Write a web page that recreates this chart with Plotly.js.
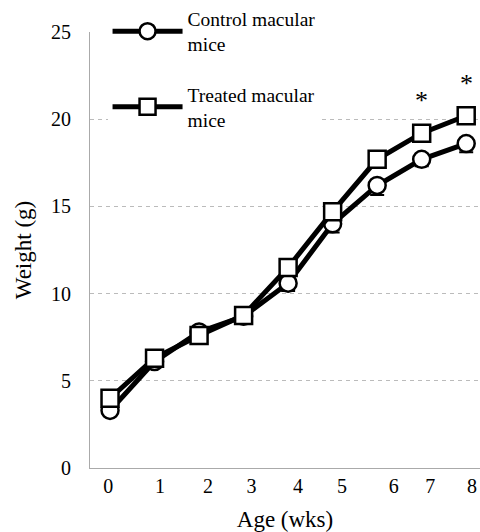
<!DOCTYPE html>
<html>
<head>
<meta charset="utf-8">
<script src="https://cdn.plot.ly/plotly-3.0.1.min.js"></script>
<style>html,body{margin:0;padding:0;background:#fff;}#chart{width:480px;height:532px;}</style>
</head>
<body>
<div id="chart"></div>
<script>
// Data
var weeks = [0, 1, 2, 3, 4, 5, 6, 7, 8];
var tickLabels = ['0', '1', '2', '3', '4', '5', '6', '7', '8'];
var controlWeight = [3.3, 6.1, 7.8, 8.7, 10.6, 14.0, 16.2, 17.7, 18.6];
var controlErr = [0.3, 0.3, 0.3, 0.3, 0.45, 0.5, 0.55, 0.4, 0.5];
var treatedWeight = [4.0, 6.3, 7.6, 8.75, 11.5, 14.7, 17.7, 19.2, 20.2];
var treatedErr = [0.3, 0.3, 0.3, 0.3, 0.4, 0.4, 0.5, 0.45, 0.4];
var significantWeeks = [7, 8];

var serif = 'Liberation Serif';

var control = {
  x: weeks, y: controlWeight, name: 'Control macular<br>mice', legendgroup: 'c',
  type: 'scatter', mode: 'lines+markers',
  line: {color: '#000', width: 5},
  marker: {symbol: 'circle', size: 17, color: '#fff', line: {color: '#000', width: 2.5}},
  error_y: {type: 'data', symmetric: false, array: weeks.map(function(){return 0;}), arrayminus: controlErr, color: '#000', thickness: 2, width: 7}
};
var treated = {
  x: weeks, y: treatedWeight, name: 'Treated macular<br>mice', legendgroup: 't',
  type: 'scatter', mode: 'lines+markers',
  line: {color: '#000', width: 5},
  marker: {symbol: 'square', size: 17, color: '#fff', line: {color: '#000', width: 2.5}},
  error_y: {type: 'data', symmetric: false, array: weeks.map(function(){return 0;}), arrayminus: treatedErr, color: '#000', thickness: 2, width: 7}
};

var annotations = significantWeeks.map(function(w){
  var i = weeks.indexOf(w);
  return {x: w, y: treatedWeight[i], text: '*', showarrow: false, xref: 'x', yref: 'y',
          yanchor: 'bottom', yshift: 16, font: {family: serif, size: 26, color: '#000'}};
});

var layout = {
  width: 480, height: 532,
  margin: {l: 90, r: 0, t: 32, b: 64, pad: 0, autoexpand: false},
  paper_bgcolor: '#fff', plot_bgcolor: '#fff',
  font: {family: serif, color: '#000', size: 20},
  showlegend: true,
  legend: {x: 0.045, y: 1.075, xanchor: 'left', yanchor: 'top', bgcolor: '#fff',
           font: {family: serif, size: 19.5, color: '#000'}, itemwidth: 70, tracegroupgap: 22},
  xaxis: {
    range: [-0.45, 8.31], showgrid: false, zeroline: false,
    showline: true, linecolor: '#aaa', linewidth: 1,
    tickmode: 'array', tickvals: [-0.04, 1.12, 2.2, 3.18, 4.22, 5.21, 6.37, 7.19, 8.13], ticktext: tickLabels,
    ticks: '', tickfont: {family: serif, size: 20, color: '#000'},
    title: {text: 'Age (wks)', font: {family: serif, size: 23, color: '#000'}, standoff: 15}
  },
  yaxis: {
    range: [0, 25], dtick: 5, tick0: 0, showgrid: true, gridcolor: '#bbb', gridwidth: 1, griddash: '4px,4px',
    zeroline: false, showline: true, linecolor: '#aaa', linewidth: 1,
    ticks: '', ticklabelstandoff: 14, tickfont: {family: serif, size: 20, color: '#000'},
    title: {text: 'Weight (g)', font: {family: serif, size: 23, color: '#000'}, standoff: 12}
  },
  annotations: annotations
};

Plotly.newPlot('chart', [control, treated], layout, {displayModeBar: false, staticPlot: true});
</script>
</body>
</html>
